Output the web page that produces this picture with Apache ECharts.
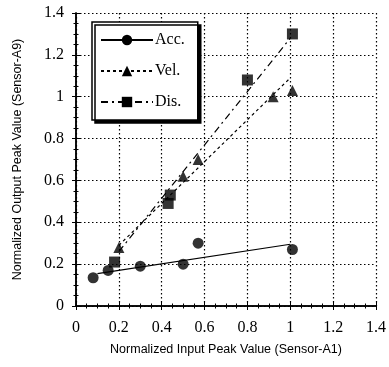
<!DOCTYPE html>
<html>
<head>
<meta charset="utf-8">
<script src="https://cdn.jsdelivr.net/npm/echarts@6/dist/echarts.min.js"></script>
<style>
  html, body { margin: 0; padding: 0; background: #fff; }
  #chart { width: 389px; height: 367px; }
</style>
</head>
<body>
<div id="chart"></div>
<script>
// measured points [input, output]
const accPts = [[0.08, 0.135], [0.15, 0.17], [0.3, 0.19], [0.5, 0.2], [0.57, 0.3], [1.01, 0.27]];
const velPts = [[0.2, 0.28], [0.5, 0.62], [0.57, 0.7], [0.92, 1.0], [1.01, 1.03]];
const disPts = [[0.18, 0.21], [0.43, 0.49], [0.44, 0.53], [0.8, 1.08], [1.01, 1.3]];
// regression lines (end points)
const accFit = [[0.1, 0.155], [1.0, 0.295]];
const velFit = [[0.2, 0.29], [1.0, 1.09]];
const disFit = [[0.2, 0.26], [1.0, 1.28]];

const SERIF = "Liberation Serif";
const SANS = "Liberation Sans";

const chart = echarts.init(document.getElementById("chart"), null, { renderer: "canvas" });

const axisCommon = {
  type: "value",
  min: 0,
  max: 1.4,
  interval: 0.2,
  axisLine: { show: true, lineStyle: { color: "#000", width: 1.5 } },
  axisTick: { show: true, inside: true, length: 4, lineStyle: { color: "#000" } },
  minorTick: { show: true, splitNumber: 4, length: 2.5, lineStyle: { color: "#000" } },
  splitLine: { show: false },
};

const fmt = (v) => String(Math.round(v * 10) / 10);

function fitSeries(name, data, symbol, dash) {
  return {
    name, type: "line", data,
    symbol, symbolSize: 11, showSymbol: false,
    itemStyle: { color: "#000" },
    lineStyle: { color: "#000", width: 1.2, type: dash },
    silent: true, z: 2,
  };
}
function ptSeries(name, data, symbol, size) {
  return {
    name, type: "scatter", data, symbol, symbolSize: size,
    itemStyle: { color: "#000" }, z: 3,
  };
}

chart.setOption({
  animation: false,
  grid: { left: 76, right: 9, top: 13, bottom: 61 },
  legend: {
    orient: "vertical",
    left: 92, top: 22,
    padding: [9, 13, 9, 8],
    itemWidth: 52, itemHeight: 13, itemGap: 13,
    backgroundColor: "#fff",
    borderColor: "#000", borderWidth: 1.5,
    shadowColor: "#000", shadowBlur: 0, shadowOffsetX: 3, shadowOffsetY: 3,
    textStyle: { fontFamily: SERIF, fontSize: 16, lineHeight: 18, color: "#000", padding: [0, 0, 0, -3] },
    data: ["Acc.", "Vel.", "Dis."],
  },
  xAxis: [
    Object.assign({}, axisCommon, {
      position: "bottom",
      name: "Normalized Input Peak Value (Sensor-A1)",
      nameLocation: "middle", nameGap: 37,
      nameTextStyle: { fontFamily: SANS, fontSize: 12.5, color: "#000" },
      axisLabel: { formatter: fmt, margin: 14, fontFamily: SERIF, fontSize: 16, color: "#000" },
      splitLine: { show: true, lineStyle: { color: "#000", type: [1.5, 2.5], width: 1.2 } },
    }),
    Object.assign({}, axisCommon, { position: "top", axisLabel: { show: false } }),
  ],
  yAxis: [
    Object.assign({}, axisCommon, {
      position: "left",
      name: "Normalized Output Peak Value (Sensor-A9)",
      nameLocation: "middle", nameGap: 52,
      nameTextStyle: { fontFamily: SANS, fontSize: 12.5, color: "#000" },
      axisLabel: { formatter: fmt, margin: 12, fontFamily: SERIF, fontSize: 16, color: "#000" },
      splitLine: { show: true, lineStyle: { color: "#000", type: [1.5, 2.5], width: 1.2 } },
    }),
    Object.assign({}, axisCommon, { position: "right", axisLabel: { show: false } }),
  ],
  series: [
    fitSeries("Acc.", accFit, "circle", "solid"),
    fitSeries("Vel.", velFit, "triangle", [3, 3]),
    fitSeries("Dis.", disFit, "rect", [7, 4, 2, 4]),
    ptSeries("Acc.", accPts, "circle", 11),
    ptSeries("Vel.", velPts, "triangle", 11),
    ptSeries("Dis.", disPts, "rect", 11),
  ],
});
</script>
</body>
</html>
